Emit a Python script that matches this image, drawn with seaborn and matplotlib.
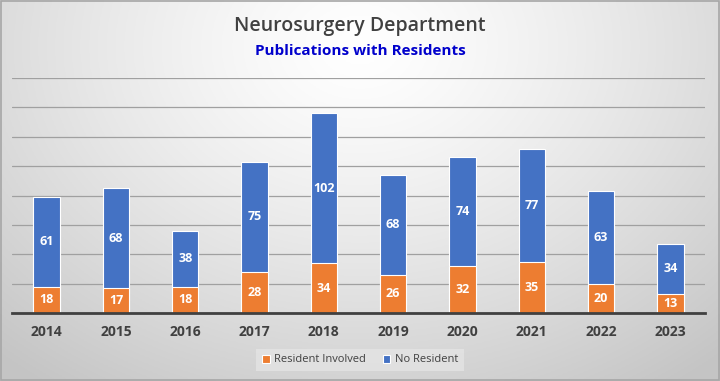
import numpy as np
import pandas as pd
import matplotlib
matplotlib.use("Agg")
import matplotlib.pyplot as plt
import seaborn as sns

years = ["2014", "2015", "2016", "2017", "2018", "2019", "2020", "2021", "2022", "2023"]
resident = [18, 17, 18, 28, 34, 26, 32, 35, 20, 13]
no_resident = [61, 68, 38, 75, 102, 68, 74, 77, 63, 34]

df = pd.DataFrame({"year": years, "resident": resident, "no_resident": no_resident})
df["total"] = df["resident"] + df["no_resident"]

sns.set_style("white")
plt.rcParams["font.family"] = ["Open Sans", "DejaVu Sans"]

fig = plt.figure(figsize=(7.2, 3.81), dpi=100)

# radial gradient background
bg = fig.add_axes([0, 0, 1, 1], zorder=-10)
xx, yy = np.meshgrid(np.linspace(0, 1, 360), np.linspace(0, 1, 190))
r = np.sqrt(((xx - 0.5) / 0.75) ** 2 + ((yy - 0.12) / 1.1) ** 2)
shade = 1.0 - 0.23 * np.clip(r, 0, 1) ** 1.3
bg.imshow(np.dstack([shade] * 3), aspect="auto", extent=[0, 1, 0, 1], origin="upper")
bg.set_xlim(0, 1)
bg.set_ylim(0, 1)
bg.axis("off")
bg.add_patch(plt.Rectangle((0.001, 0.002), 0.997, 0.995, fill=False, edgecolor="#a6a6a6", lw=1.2))

ax = fig.add_axes([12 / 720, 68 / 381, 693 / 720, 235 / 381])
ax.patch.set_alpha(0)

sns.barplot(data=df, x="year", y="total", color="#4472C4", width=0.38, saturation=1,
            edgecolor="white", linewidth=0.8, ax=ax, label="No Resident", zorder=3)
sns.barplot(data=df, x="year", y="resident", color="#ED7D31", width=0.38, saturation=1,
            edgecolor="white", linewidth=0.8, ax=ax, label="Resident Involved", zorder=3)
handles, labels = ax.get_legend_handles_labels()
if ax.get_legend() is not None:
    ax.get_legend().remove()

for i, row in df.iterrows():
    ax.text(i, row["resident"] / 2, str(row["resident"]), ha="center", va="center",
            color="white", fontsize=9, fontweight="bold", zorder=5)
    ax.text(i, row["resident"] + row["no_resident"] / 2, str(row["no_resident"]),
            ha="center", va="center", color="white", fontsize=9, fontweight="bold", zorder=5)

ax.set_ylim(0, 160)
ax.set_yticks(np.arange(0, 161, 20))
ax.set_yticklabels([])
ax.tick_params(axis="y", length=0)
ax.yaxis.grid(True, color="#a0a0a0", lw=0.9)
ax.set_axisbelow(True)
ax.set_xlabel("")
ax.set_ylabel("")
ax.tick_params(axis="x", length=0, pad=9, labelsize=10, labelcolor="#404040")
for lab in ax.get_xticklabels():
    lab.set_fontweight("bold")
for s in ["top", "right", "left"]:
    ax.spines[s].set_visible(False)
ax.spines["bottom"].set_color("#404040")
ax.spines["bottom"].set_linewidth(2)
ax.spines["bottom"].set_zorder(6)

leg = fig.legend(handles[::-1], labels[::-1], loc="center", bbox_to_anchor=(0.5, 21 / 381),
                 ncol=2, frameon=True, fontsize=8, handlelength=0.7, handleheight=0.7,
                 handletextpad=0.4, columnspacing=1.5, borderpad=0.5)
leg.get_frame().set_facecolor("#e4e4e4")
leg.get_frame().set_edgecolor("none")
leg.get_frame().set_boxstyle("square", pad=0)
for t in leg.get_texts():
    t.set_color("#404040")

fig.text(0.5, 1 - 26 / 381, "Neurosurgery Department", ha="center", va="center",
         fontsize=14, color="#404040", fontweight="semibold")
fig.text(0.5, 1 - 51 / 381, "Publications with Residents", ha="center", va="center",
         fontsize=11, color="#0000CC", fontweight="bold")

fig.savefig("out.png", dpi=100)
